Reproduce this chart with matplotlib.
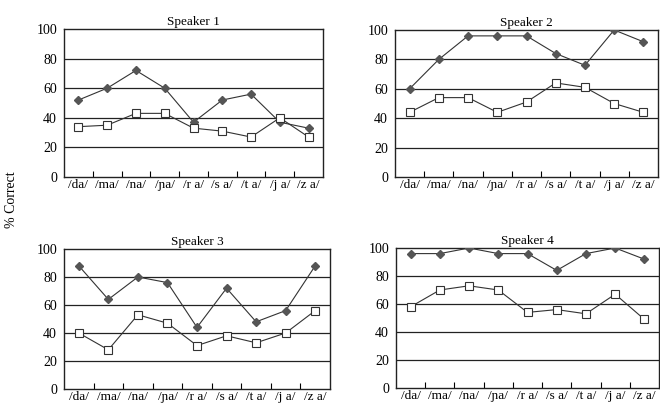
import numpy as np
import matplotlib.pyplot as plt

plt.rcParams['font.family'] = ['Liberation Serif', 'DejaVu Serif']

syllables = ['/da/', '/ma/', '/na/', '/ɲa/', '/r a/', '/s a/', '/t a/', '/j a/', '/z a/']

# diamond series (upper) and square series (lower), % correct
spk1_diamond = [52, 60, 72, 60, 37, 52, 56, 37, 33]
spk1_square = [34, 35, 43, 43, 33, 31, 27, 40, 27]
spk2_diamond = [60, 80, 96, 96, 96, 84, 76, 100, 92]
spk2_square = [44, 54, 54, 44, 51, 64, 61, 50, 44]
spk3_diamond = [88, 64, 80, 76, 44, 72, 48, 56, 88]
spk3_square = [40, 28, 53, 47, 31, 38, 33, 40, 56]
spk4_diamond = [96, 96, 100, 96, 96, 84, 96, 100, 92]
spk4_square = [58, 70, 73, 70, 54, 56, 53, 67, 49]

speakers = ['Speaker 1', 'Speaker 2', 'Speaker 3', 'Speaker 4']
diamonds = [spk1_diamond, spk2_diamond, spk3_diamond, spk4_diamond]
squares = [spk1_square, spk2_square, spk3_square, spk4_square]

W, H = 660, 407
fig = plt.figure(figsize=(W / 100, H / 100), dpi=100)

# axes boxes in pixels: left, top, right, bottom
boxes = [(64, 29, 323, 177), (395, 30, 658, 177),
         (64, 249, 330, 389), (396, 248, 659, 388)]

x = np.arange(len(syllables))
for k in range(4):
    l, t, r, b = boxes[k]
    ax = fig.add_axes([l / W, 1 - b / H, (r - l) / W, (b - t) / H])
    for yv in [20, 40, 60, 80]:
        ax.axhline(yv, color='#222222', lw=0.9, zorder=1)
    ax.plot(x, diamonds[k], color='#333333', lw=0.8, marker='D', ms=4.2,
            mfc='#555555', mec='#555555', zorder=3)
    ax.plot(x, squares[k], color='#333333', lw=0.8, marker='s', ms=5.5,
            mfc='white', mec='#333333', mew=0.8, zorder=3)
    ax.set_xlim(-0.5, len(syllables) - 0.5)
    ax.set_ylim(0, 100)
    ax.set_yticks([0, 20, 40, 60, 80, 100])
    ax.set_xticks(x)
    ax.set_xticklabels(syllables, fontsize=9.5)
    ax.set_xticks(np.arange(0.5, len(syllables) - 1, 1), minor=True)
    ax.tick_params(axis='x', which='major', length=0, pad=1.5)
    ax.tick_params(axis='x', which='minor', direction='in', length=4, width=0.8)
    ax.tick_params(axis='y', length=0, pad=5, labelsize=10)
    for s in ax.spines.values():
        s.set_linewidth(1.0)
        s.set_color('#222222')
    ax.set_title(speakers[k], fontsize=9.5, pad=3)

fig.text(12 / W, 1 - 200 / H, '% Correct', rotation=90, ha='center', va='center', fontsize=10)

fig.savefig('out.png', dpi=100)
